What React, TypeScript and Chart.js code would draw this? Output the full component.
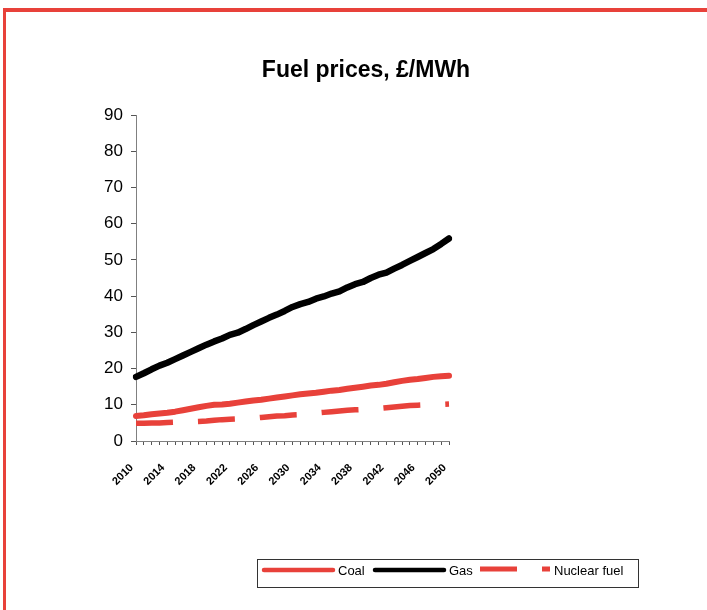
import React, { useEffect, useRef } from "react";
import { Chart, registerables } from "chart.js";

Chart.register(...registerables);

const TITLE = "Fuel prices, £/MWh";
const YEARS: string[] = [];
for (let y = 2010; y <= 2050; y++) YEARS.push(String(y));

const COAL = [
  6.9, 7.1, 7.4, 7.6, 7.8, 8.1, 8.5, 8.9, 9.3, 9.7,
  10.0, 10.1, 10.3, 10.6, 10.9, 11.2, 11.4, 11.7, 12.0, 12.3,
  12.6, 12.9, 13.1, 13.3, 13.6, 13.9, 14.1, 14.4, 14.7, 15.0,
  15.3, 15.5, 15.8, 16.2, 16.6, 16.9, 17.1, 17.4, 17.7, 17.9, 18.0,
];
const GAS = [
  17.7, 18.7, 19.8, 20.8, 21.6, 22.6, 23.6, 24.6, 25.6, 26.6,
  27.5, 28.3, 29.3, 29.9, 30.9, 32.0, 33.0, 34.0, 34.9, 35.9,
  37.0, 37.8, 38.4, 39.3, 39.9, 40.7, 41.3, 42.4, 43.3, 43.9,
  45.0, 45.9, 46.5, 47.6, 48.6, 49.7, 50.8, 51.9, 53.0, 54.4, 55.9,
];
const NUCLEAR = [
  4.9, 4.9, 5.0, 5.0, 5.1, 5.2, 5.3, 5.3, 5.4, 5.5,
  5.7, 5.9, 6.0, 6.1, 6.2, 6.3, 6.5, 6.7, 6.9, 7.0,
  7.2, 7.3, 7.5, 7.7, 7.9, 8.1, 8.3, 8.5, 8.6, 8.7,
  8.8, 9.0, 9.2, 9.4, 9.6, 9.8, 9.9, 10.0, 10.1, 10.1, 10.2,
];
const SERIES_NAMES = ["Coal", "Gas", "Nuclear fuel"];
const Y_MIN = 0;
const Y_MAX = 90;
const Y_STEP = 10;
const LABEL_EVERY = 4;

const RED = "#E8413A";
const FONT = "'Liberation Sans', Arial, sans-serif";

const overlayPlugin = {
  id: "overlay",
  afterDraw(chart: any) {
    const ctx = chart.ctx;
    ctx.save();
    ctx.fillStyle = "#000";
    ctx.font = `bold 23px ${FONT}`;
    ctx.textAlign = "center";
    ctx.textBaseline = "alphabetic";
    ctx.fillText(TITLE, 366, 77);

    ctx.strokeStyle = "#333";
    ctx.lineWidth = 1;
    ctx.strokeRect(257.5, 559.5, 381, 28);
    const items = [
      { x0: 262, x1: 335, tx: 338, y: 570 },
      { x0: 373, x1: 446, tx: 449, y: 570 },
      { x0: 480, x1: 550, tx: 554, y: 569 },
    ];
    chart.data.datasets.forEach((ds: any, i: number) => {
      const it = items[i];
      ctx.save();
      ctx.strokeStyle = ds.borderColor;
      ctx.lineWidth = i === 2 ? 5 : 4.5;
      ctx.lineCap = ds.borderCapStyle || "butt";
      ctx.setLineDash(ds.borderDash || []);
      ctx.beginPath();
      const pad = ds.borderCapStyle === "round" ? 2 : 0;
      ctx.moveTo(it.x0 + pad, it.y);
      ctx.lineTo(it.x1 - pad, it.y);
      ctx.stroke();
      ctx.restore();
      ctx.fillStyle = "#000";
      ctx.font = `13px ${FONT}`;
      ctx.textAlign = "left";
      ctx.textBaseline = "middle";
      ctx.fillText(ds.label, it.tx, 571);
    });
    ctx.restore();
  },
};

export default function App() {
  const ref = useRef<HTMLCanvasElement | null>(null);
  useEffect(() => {
    if (!ref.current) return;
    const chart = new Chart(ref.current, {
      type: "line",
      data: {
        labels: YEARS,
        datasets: [
          {
            label: SERIES_NAMES[0],
            data: COAL,
            borderColor: RED,
            backgroundColor: RED,
            borderWidth: 6,
            pointRadius: 0,
            tension: 0,
            borderCapStyle: "round",
            borderJoinStyle: "round",
          },
          {
            label: SERIES_NAMES[1],
            data: GAS,
            borderColor: "#000000",
            backgroundColor: "#000000",
            borderWidth: 6.5,
            pointRadius: 0,
            tension: 0,
            borderCapStyle: "round",
            borderJoinStyle: "round",
          },
          {
            label: SERIES_NAMES[2],
            data: NUCLEAR,
            borderColor: RED,
            backgroundColor: RED,
            borderWidth: 5.5,
            pointRadius: 0,
            tension: 0,
            borderDash: [37, 25],
            borderCapStyle: "butt",
            borderJoinStyle: "miter",
          },
        ],
      },
      options: {
        responsive: false,
        animation: false,
        devicePixelRatio: 1,
        layout: { padding: { left: 96, right: 258, top: 115, bottom: 0 } },
        plugins: {
          legend: { display: false },
          title: { display: false },
          tooltip: { enabled: false },
        },
        scales: {
          x: {
            offset: false,
            grid: {
              display: true,
              drawOnChartArea: false,
              drawTicks: true,
              tickLength: 4,
              color: "#555",
              offset: false,
            },
            border: { display: true, color: "#808080", width: 1 },
            ticks: {
              autoSkip: false,
              maxRotation: 45,
              minRotation: 45,
              padding: 12,
              color: "#000",
              font: { family: FONT, size: 11, weight: "bold" },
              callback: (_v: any, i: number) => (i % LABEL_EVERY === 0 ? YEARS[i] + "  " : ""),
            },
            afterFit: (s: any) => {
              s.height = 169;
            },
          },
          y: {
            min: Y_MIN,
            max: Y_MAX,
            grid: {
              display: true,
              drawOnChartArea: false,
              drawTicks: true,
              tickLength: 5,
              color: "#555",
            },
            border: { display: true, color: "#808080", width: 1 },
            ticks: {
              stepSize: Y_STEP,
              padding: 8,
              color: "#000",
              font: { family: FONT, size: 17 },
            },
            afterFit: (s: any) => {
              s.width = 40;
            },
          },
        },
      },
      plugins: [overlayPlugin],
    });
    return () => chart.destroy();
  }, []);

  return (
    <div style={{ position: "fixed", left: 0, top: 0, width: 707, height: 610, overflow: "hidden", background: "#fff" }}>
      <div
        style={{
          position: "absolute",
          left: 3,
          top: 8,
          width: 800,
          height: 700,
          borderLeft: `3px solid ${RED}`,
          borderTop: `4px solid ${RED}`,
        }}
      />
      <canvas ref={ref} width={707} height={610} style={{ position: "absolute", left: 0, top: 0, width: 707, height: 610 }} />
    </div>
  );
}
